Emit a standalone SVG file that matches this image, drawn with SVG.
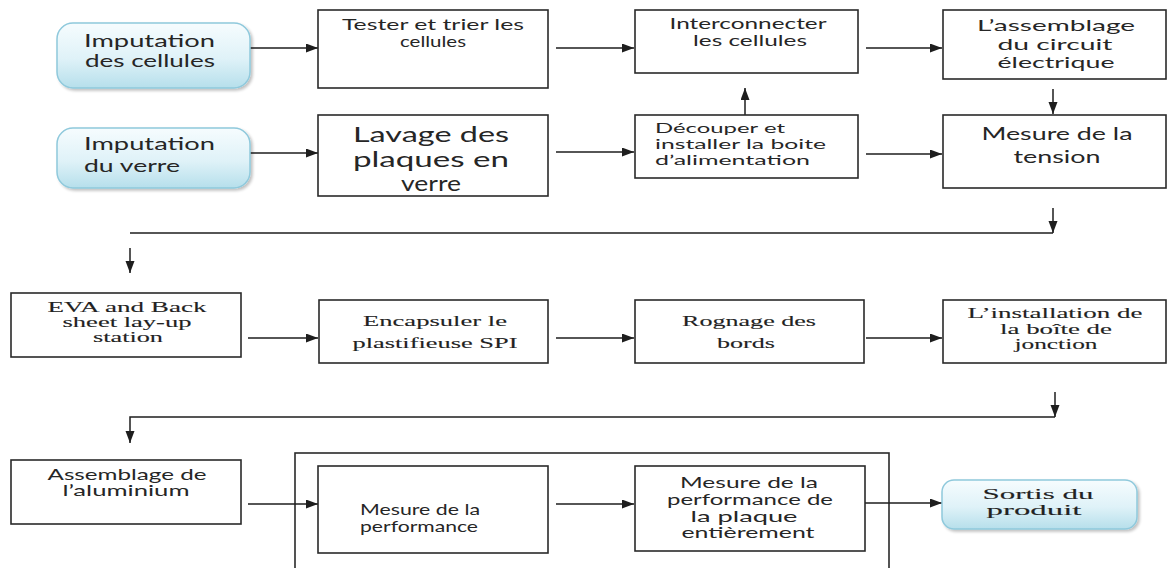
<svg xmlns="http://www.w3.org/2000/svg" width="1170" height="568" viewBox="0 0 1170 568">
  <style>
    .box { fill: #ffffff; stroke: #2a2a2a; stroke-width: 1.6; }
    .frame { fill: none; stroke: #2a2a2a; stroke-width: 1.6; }
    .pill { fill: url(#pillFill); stroke: #8fc9dc; stroke-width: 1.5; filter: url(#soft); }
    .sans { font-family: Lato, "Open Sans", "DejaVu Sans", sans-serif; fill: #262626; }
    .serif { font-family: "Liberation Serif", "DejaVu Serif", serif; fill: #222222; stroke: #222222; stroke-width: 0.1; }
    .c { text-anchor: middle; }
    .link { fill: none; stroke: #1e1e1e; stroke-width: 1.5; }
    .arrow { marker-end: url(#head); }
  </style>
  <defs>
    <linearGradient id="pillFill" x1="0" y1="0" x2="0" y2="1">
      <stop offset="0" stop-color="#f6fcfe"/>
      <stop offset="0.55" stop-color="#dff2f8"/>
      <stop offset="1" stop-color="#b6dfeb"/>
    </linearGradient>
    <filter id="soft" x="-10%" y="-10%" width="125%" height="130%">
      <feGaussianBlur in="SourceAlpha" stdDeviation="1.6"/>
      <feOffset dx="1.5" dy="2" result="b"/>
      <feComponentTransfer><feFuncA type="linear" slope="0.25"/></feComponentTransfer>
      <feMerge><feMergeNode/><feMergeNode in="SourceGraphic"/></feMerge>
    </filter>
    <marker id="head" markerUnits="userSpaceOnUse" markerWidth="13" markerHeight="10" refX="12" refY="4.5" orient="auto">
      <path d="M0,0 L12,4.5 L0,9 Z" fill="#1e1e1e"/>
    </marker>
  </defs>

  <!-- open frame grouping the two final measurement steps (runs off the bottom edge) -->
  <g id="bloc-mesures">
    <rect class="frame" x="295" y="453" width="594" height="130"/>
  </g>

  <!-- connectors -->
  <g id="connectors">
    <line class="link arrow" x1="250" y1="48" x2="318" y2="48"/>
    <line class="link arrow" x1="556" y1="48" x2="634" y2="48"/>
    <line class="link arrow" x1="866" y1="48" x2="942" y2="48"/>
    <line class="link arrow" x1="1053" y1="89" x2="1053" y2="114"/>
    <line class="link arrow" x1="250" y1="153" x2="318" y2="153"/>
    <line class="link arrow" x1="556" y1="152" x2="634" y2="152"/>
    <line class="link arrow" x1="866" y1="154" x2="942" y2="154"/>
    <line class="link arrow" x1="745" y1="115" x2="745" y2="88"/>
    <line class="link arrow" x1="1053" y1="208" x2="1053" y2="233"/>
    <line class="link" x1="130" y1="233" x2="1053" y2="233"/>
    <line class="link arrow" x1="130" y1="248" x2="130" y2="273"/>
    <line class="link arrow" x1="248" y1="338" x2="318" y2="338"/>
    <line class="link arrow" x1="556" y1="338" x2="634" y2="338"/>
    <line class="link arrow" x1="866" y1="338" x2="942" y2="338"/>
    <line class="link arrow" x1="1055" y1="392" x2="1055" y2="417"/>
    <polyline class="link arrow" points="1055,417 130,417 130,443"/>
    <line class="link arrow" x1="248" y1="504" x2="318" y2="504"/>
    <line class="link arrow" x1="556" y1="504" x2="634" y2="504"/>
    <line class="link arrow" x1="865" y1="503" x2="942" y2="503"/>
  </g>

  <!-- row 1 -->
  <g id="imputation-cellules">
    <rect class="pill" x="57" y="23" width="193" height="65" rx="16"/>
    <text class="sans" font-size="17" x="84" y="47" textLength="131" lengthAdjust="spacingAndGlyphs">Imputation</text>
    <text class="sans" font-size="17" x="85" y="67" textLength="130" lengthAdjust="spacingAndGlyphs">des cellules</text>
  </g>
  <g id="tester-trier">
    <rect class="box" x="318" y="10" width="230" height="78"/>
    <text class="sans c" font-size="14.5" x="433" y="30" textLength="182" lengthAdjust="spacingAndGlyphs">Tester et trier les</text>
    <text class="sans c" font-size="14.5" x="433" y="47" textLength="66" lengthAdjust="spacingAndGlyphs">cellules</text>
  </g>
  <g id="interconnecter">
    <rect class="box" x="635" y="10" width="223" height="63"/>
    <text class="sans c" font-size="15" x="748" y="29" textLength="157" lengthAdjust="spacingAndGlyphs">Interconnecter</text>
    <text class="sans c" font-size="15" x="750" y="46" textLength="114" lengthAdjust="spacingAndGlyphs">les cellules</text>
  </g>
  <g id="assemblage-circuit">
    <rect class="box" x="943" y="10" width="223" height="69"/>
    <text class="sans c" font-size="16" x="1056" y="31" textLength="158" lengthAdjust="spacingAndGlyphs">L’assemblage</text>
    <text class="sans c" font-size="16" x="1055" y="50" textLength="115" lengthAdjust="spacingAndGlyphs">du circuit</text>
    <text class="sans c" font-size="16" x="1056" y="68" textLength="117" lengthAdjust="spacingAndGlyphs">électrique</text>
  </g>

  <!-- row 2 -->
  <g id="imputation-verre">
    <rect class="pill" x="57" y="128" width="193" height="60" rx="16"/>
    <text class="sans" font-size="18" x="84" y="150" textLength="131" lengthAdjust="spacingAndGlyphs">Imputation</text>
    <text class="sans" font-size="18" x="84" y="172" textLength="96" lengthAdjust="spacingAndGlyphs">du verre</text>
  </g>
  <g id="lavage">
    <rect class="box" x="318" y="115" width="230" height="81"/>
    <text class="sans c" font-size="21" x="431" y="142" textLength="156" lengthAdjust="spacingAndGlyphs">Lavage des</text>
    <text class="sans c" font-size="21" x="431" y="167" textLength="156" lengthAdjust="spacingAndGlyphs">plaques en</text>
    <text class="sans c" font-size="21" x="431" y="191" textLength="60" lengthAdjust="spacingAndGlyphs">verre</text>
  </g>
  <g id="decouper">
    <rect class="box" x="635" y="115" width="223" height="63"/>
    <text class="sans" font-size="14" x="655" y="133" textLength="130" lengthAdjust="spacingAndGlyphs">Découper et</text>
    <text class="sans" font-size="14" x="655" y="149" textLength="171" lengthAdjust="spacingAndGlyphs">installer la boite</text>
    <text class="sans" font-size="14" x="655" y="165" textLength="155" lengthAdjust="spacingAndGlyphs">d’alimentation</text>
  </g>
  <g id="mesure-tension">
    <rect class="box" x="943" y="115" width="223" height="73"/>
    <text class="sans c" font-size="17" x="1057" y="140" textLength="151" lengthAdjust="spacingAndGlyphs">Mesure de la</text>
    <text class="sans c" font-size="17" x="1057" y="163" textLength="87" lengthAdjust="spacingAndGlyphs">tension</text>
  </g>

  <!-- row 3 -->
  <g id="eva-backsheet">
    <rect class="box" x="11" y="293" width="230" height="64"/>
    <text class="serif c" font-size="14" x="127" y="312" textLength="159" lengthAdjust="spacingAndGlyphs">EVA and Back</text>
    <text class="serif c" font-size="14" x="127" y="327" textLength="129" lengthAdjust="spacingAndGlyphs">sheet lay-up</text>
    <text class="serif c" font-size="14" x="128" y="342" textLength="70" lengthAdjust="spacingAndGlyphs">station</text>
  </g>
  <g id="encapsuler">
    <rect class="box" x="319" y="300" width="229" height="63"/>
    <text class="serif c" font-size="14.5" x="435" y="326" textLength="144" lengthAdjust="spacingAndGlyphs">Encapsuler le</text>
    <text class="serif c" font-size="14.5" x="435" y="348" textLength="165" lengthAdjust="spacingAndGlyphs">plastifieuse SPI</text>
  </g>
  <g id="rognage">
    <rect class="box" x="635" y="300" width="229" height="63"/>
    <text class="serif c" font-size="14.5" x="749" y="326" textLength="134" lengthAdjust="spacingAndGlyphs">Rognage des</text>
    <text class="serif c" font-size="14.5" x="746" y="348" textLength="58" lengthAdjust="spacingAndGlyphs">bords</text>
  </g>
  <g id="boite-jonction">
    <rect class="box" x="943" y="300" width="223" height="63"/>
    <text class="serif c" font-size="14" x="1055" y="318" textLength="175" lengthAdjust="spacingAndGlyphs">L’installation de</text>
    <text class="serif c" font-size="14" x="1056" y="334" textLength="112" lengthAdjust="spacingAndGlyphs">la boîte de</text>
    <text class="serif c" font-size="14" x="1056" y="349" textLength="83" lengthAdjust="spacingAndGlyphs">jonction</text>
  </g>

  <!-- row 4 -->
  <g id="assemblage-aluminium">
    <rect class="box" x="11" y="460" width="230" height="64"/>
    <text class="sans c" font-size="15" x="127" y="480" textLength="159" lengthAdjust="spacingAndGlyphs">Assemblage de</text>
    <text class="sans c" font-size="15" x="126" y="496" textLength="127" lengthAdjust="spacingAndGlyphs">l’aluminium</text>
  </g>
  <g id="mesure-performance">
    <rect class="box" x="318" y="466" width="230" height="87"/>
    <text class="sans c" font-size="15" x="420" y="515" textLength="120" lengthAdjust="spacingAndGlyphs">Mesure de la</text>
    <text class="sans c" font-size="15" x="419" y="532" textLength="118" lengthAdjust="spacingAndGlyphs">performance</text>
  </g>
  <g id="mesure-plaque">
    <rect class="box" x="635" y="466" width="230" height="85"/>
    <text class="sans c" font-size="15" x="749" y="488" textLength="138" lengthAdjust="spacingAndGlyphs">Mesure de la</text>
    <text class="sans c" font-size="15" x="750" y="505" textLength="166" lengthAdjust="spacingAndGlyphs">performance de</text>
    <text class="sans c" font-size="15" x="744" y="522" textLength="107" lengthAdjust="spacingAndGlyphs">la plaque</text>
    <text class="sans c" font-size="15" x="748" y="538" textLength="133" lengthAdjust="spacingAndGlyphs">entièrement</text>
  </g>
  <g id="sortie-produit">
    <rect class="pill" x="942" y="480" width="195" height="49" rx="12"/>
    <text class="serif c" font-size="15" x="1038" y="499" textLength="111" lengthAdjust="spacingAndGlyphs">Sortis du</text>
    <text class="serif c" font-size="15" x="1034" y="515" textLength="95" lengthAdjust="spacingAndGlyphs">produit</text>
  </g>
</svg>
